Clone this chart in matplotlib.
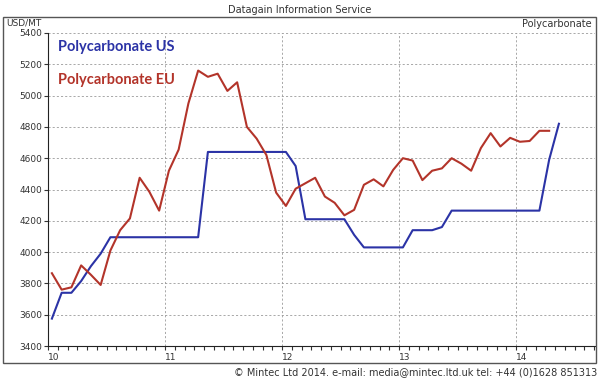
import matplotlib.pyplot as plt
import numpy as np
from matplotlib.patches import Rectangle

# Monthly prices, USD/MT, starting Jan 2010
pc_eu = [3865, 3760, 3775, 3915, 3855, 3790, 4010, 4140, 4215, 4475,
         4385, 4265, 4520, 4655, 4950, 5160, 5120, 5140, 5030, 5085,
         4800, 4725, 4620, 4380, 4295, 4405, 4440, 4475, 4355, 4315,
         4235, 4270, 4430, 4465, 4420, 4525, 4600, 4585, 4460, 4520,
         4535, 4600, 4565, 4520, 4665, 4760, 4675, 4730, 4705, 4710,
         4775, 4775]
pc_us = [3575, 3740, 3740, 3815, 3910, 3990, 4095, 4095, 4095, 4095,
         4095, 4095, 4095, 4095, 4095, 4095, 4640, 4640, 4640, 4640,
         4640, 4640, 4640, 4640, 4640, 4550, 4210, 4210, 4210, 4210,
         4210, 4110, 4030, 4030, 4030, 4030, 4030, 4140, 4140, 4140,
         4160, 4265, 4265, 4265, 4265, 4265, 4265, 4265, 4265, 4265,
         4265, 4590, 4820]
year_labels = ["10", "11", "12", "13", "14"]

start_year = 10
x_eu = start_year + (np.arange(len(pc_eu)) + 0.4) / 12
x_us = start_year + (np.arange(len(pc_us)) + 0.4) / 12

blue = "#2b33a6"
red = "#b3342a"
txt = "#333333"

fig = plt.figure(figsize=(6, 3.81), dpi=100)
ax = fig.add_axes([48/600, 1 - 346/381, 547/600, 313/381])

ax.plot(x_us, pc_us, color=blue, lw=1.5)
ax.plot(x_eu, pc_eu, color=red, lw=1.5)

ax.set_xlim(10, 10 + 547/117)
ax.set_ylim(3400, 5400)
ax.set_yticks(np.arange(3400, 5401, 200))
ax.set_xticks(np.arange(10, 15))
ax.set_xticklabels(year_labels, ha="left")
ax.set_xticks(np.arange(10, 14.7, 1/12), minor=True)
ax.tick_params(axis="both", labelsize=6.5, colors=txt, length=3, width=0.8)
ax.tick_params(axis="x", which="minor", length=3, width=0.8, color=txt)
ax.tick_params(axis="x", pad=2)
ax.tick_params(axis="y", pad=1)
ax.grid(True, ls=(0, (2.5, 2.5)), color="#9a9a9a", lw=0.6)
for s in ["top", "right"]:
    ax.spines[s].set_visible(False)
for s in ["left", "bottom"]:
    ax.spines[s].set_color("#222222")

ax.text(0.018, 0.955, "Polycarbonate US", transform=ax.transAxes, color=blue,
        fontsize=10.5, fontweight="bold", va="center", family="Lato")
ax.text(0.018, 0.85, "Polycarbonate EU", transform=ax.transAxes, color=red,
        fontsize=10.5, fontweight="bold", va="center", family="Lato")

# outer frame and captions
fig.patches.append(Rectangle((3/600, 1 - 363/381), 593/600, 346/381,
                             transform=fig.transFigure, fill=False,
                             edgecolor="#555555", lw=1.0))
fig.text(0.5, 1 - 10/381, "Datagain Information Service", ha="center",
         va="center", fontsize=7, color=txt)
fig.text(6/600, 1 - 23/381, "USD/MT", ha="left", va="center", fontsize=6.5, color=txt)
fig.text(592/600, 1 - 24/381, "Polycarbonate", ha="right", va="center",
         fontsize=7, color=txt)
fig.text(597/600, 1 - 372/381,
         "\u00a9 Mintec Ltd 2014. e-mail: media@mintec.ltd.uk tel: +44 (0)1628 851313",
         ha="right", va="center", fontsize=7, color=txt)

fig.savefig("out.png", dpi=100)
